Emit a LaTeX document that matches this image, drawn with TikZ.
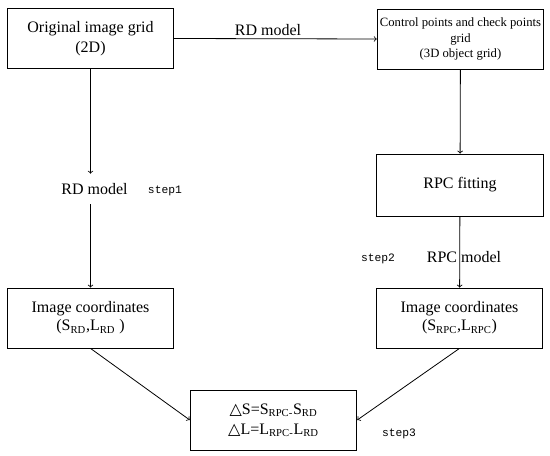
\documentclass[tikz,border=0pt]{standalone}
\usepackage{fontspec}
\setmainfont{Liberation Serif}
\newfontfamily\stepfont{Liberation Mono}
\newfontfamily\trifont{DejaVu Sans}
\tikzset{every picture/.style={line width=0.6pt}}
\tikzset{flowbox/.style={draw, align=center, minimum width=125pt, minimum height=45pt, inner sep=2pt, font=\fontsize{12}{15}\selectfont}}
\tikzset{modellabel/.style={font=\fontsize{12}{15}\selectfont}}
\tikzset{steplabel/.style={font=\stepfont\fontsize{8.5}{10}\selectfont}}

\begin{document}
\begin{tikzpicture}[x=0.75pt, y=-0.75pt, >=to]
    \useasboundingbox (0,0) rectangle (550,456);
    \node[flowbox] (orig) at (90.5,38.5) {Original image grid\\(2D)};
    \node[flowbox, font=\fontsize{9.5}{11.4}\selectfont] (ctrl) at (460.5,39) {Control points and check points\\grid\\(3D object grid)};
    \node[flowbox, minimum height=46.5pt] (fit) at (460,185) {RPC fitting};
    \node[flowbox, font=\fontsize{12}{13.5}\selectfont] (imgrd) at (90.5,318) {Image coordinates\\(S\textsubscript{RD},L\textsubscript{RD} )};
    \node[flowbox, font=\fontsize{12}{13.5}\selectfont] (imgrpc) at (459.5,318) {Image coordinates\\(S\textsubscript{RPC},L\textsubscript{RPC})};
    \node[flowbox] (diff) at (273.5,420) {{\trifont △}S=S\textsubscript{RPC-}S\textsubscript{RD}\\{\trifont △}L=L\textsubscript{RPC-}L\textsubscript{RD}};

    \node[modellabel] (rdtop) at (268,30) {RD model};
    \node[modellabel, inner ysep=7pt] (rdmid) at (94.5,189) {RD model};
    \node[modellabel] (rpcmid) at (464,257) {RPC model};
    \node[steplabel] (s1) at (165,191) {step1};
    \node[steplabel] (s2) at (378,259) {step2};
    \node[steplabel] (s3) at (399,434) {step3};

    \draw[->] (orig.east) -- (ctrl.west);
    \draw[->] (orig) -- (orig |- rdmid.north);
    \draw[->] (orig |- rdmid.south) -- (imgrd);
    \draw[->] (ctrl) -- (fit);
    \draw[->] (fit) -- (imgrpc);
    \draw[->] (imgrd.south) -- (diff.west);
    \draw[->] (imgrpc.south) -- (diff.east);
\end{tikzpicture}
\end{document}
